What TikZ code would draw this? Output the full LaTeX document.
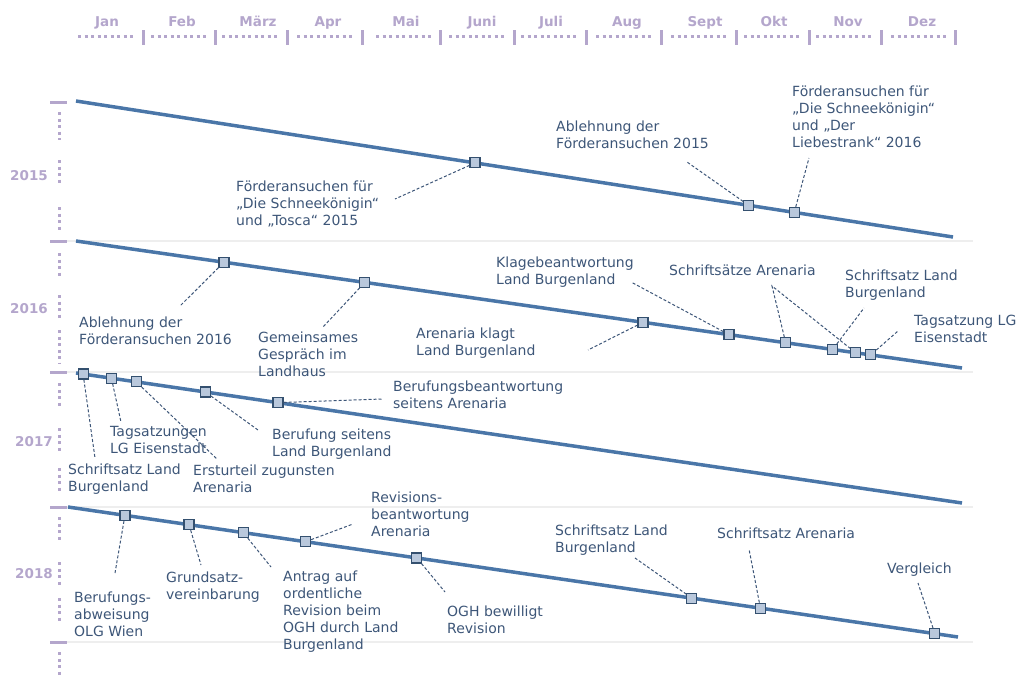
\documentclass[tikz,border=0pt]{standalone}
\usepackage{fontspec}
\newfontfamily\dvs{DejaVu Sans}
\usetikzlibrary{positioning,backgrounds}
\definecolor{lav}{HTML}{B4A6CC}
\definecolor{tlblue}{HTML}{4A76A8}
\definecolor{txt}{HTML}{3D5678}
\definecolor{mfill}{HTML}{B9C8DC}
\definecolor{mdraw}{HTML}{34506F}
\definecolor{gridgray}{HTML}{EEEEEE}

\begin{document}
\begin{tikzpicture}[x=1pt,y=-1pt,
  tl/.style={draw=tlblue, line width=3.5pt},
  evt/.style={rectangle, draw=mdraw, fill=mfill, line width=1.1pt, minimum size=10pt, inner sep=0pt},
  lead/.style={draw=txt, line width=1pt, dash pattern=on 3pt off 2pt},
  lbl/.style={anchor=north west, inner sep=0pt, align=left, text=txt, font=\dvs\fontsize{14}{17}\selectfont},
  mon/.style={anchor=base, inner sep=0pt, text=lav, font=\dvs\bfseries\fontsize{13.5}{16}\selectfont},
  yr/.style={anchor=base east, inner sep=0pt, text=lav, font=\dvs\bfseries\fontsize{13.5}{16}\selectfont},
  tick/.style={draw=lav, line width=3pt},
  dots/.style={draw=lav, line width=3pt, dash pattern=on 3pt off 3.5pt},
  gline/.style={draw=gridgray, line width=1.5pt}]
\useasboundingbox (0,0) rectangle (1017,675);

% months
\foreach \m/\x/\t [count=\i] in {Jan/106/143, Feb/179/215, März/250/287, Apr/325/362,
    Mai/404/440, Juni/477/514, Juli/549/586, Aug/624/661, Sept/699/736, Okt/772/809,
    Nov/844/881, Dez/919/955}{
  \draw[dots] (\x-28,36) -- (\x+27,36);
  \draw[tick] (\t,30) -- (\t,45);
}
\foreach \m/\x [count=\i] in {Jan/107, Feb/182, März/258, Apr/328, Mai/406, Juni/482,
    Juli/551, Aug/627, Sept/705, Okt/774, Nov/848, Dez/922}
  \node[mon] (mon\i) at (\x,26.5) {\m};

% years
\foreach \y in {241,372,507,642} \draw[gline] (67,\y) -- (973,\y);
\foreach \y in {102,241,372,507,642} \draw[tick] (50,\y) -- (67,\y);
\foreach \a/\b in {112/140, 160/185, 207/233, 253/277, 295/320, 330/363, 383/407,
    428/452, 468/493, 517/542, 562/587, 598/623, 652/675}
  \draw[dots] (59,\a) -- (59,\b);
\node[yr] (y15) at (48,180) {2015};
\node[yr] (y16) at (48,313) {2016};
\node[yr] (y17) at (53,446) {2017};
\node[yr] (y18) at (53,578) {2018};

% 2015
\coordinate (s15) at (76,101);
\coordinate (e15) at (953,237);
\draw[tl] (s15) -- (e15)
  node[evt,pos=0.455] (m15a) {}
  node[evt,pos=0.767] (m15b) {}
  node[evt,pos=0.819] (m15c) {};
\node[lbl] (t15a) at (236,181) {Förderansuchen für\\„Die Schneekönigin“\\und „Tosca“ 2015};
\node[lbl] (t15b) at (556,121) {Ablehnung der\\Förderansuchen 2015};
\node[lbl] (t15c) at (792,86) {Förderansuchen für\\„Die Schneekönigin“\\und „Der\\Liebestrank“ 2016};
\coordinate (c15a) at (395,199);
\coordinate (c15b) at (687,162);
\coordinate (c15c) at (809,158);
\begin{scope}[on background layer]
\draw[lead] (m15a) -- (c15a);
\draw[lead] (m15b) -- (c15b);
\draw[lead] (m15c) -- (c15c);
\end{scope}

% 2016
\coordinate (s16) at (76,241);
\coordinate (e16) at (962,368);
\draw[tl] (s16) -- (e16)
  node[evt,pos=0.167] (m16a) {}
  node[evt,pos=0.326] (m16b) {}
  node[evt,pos=0.640] (m16c) {}
  node[evt,pos=0.737] (m16d) {}
  node[evt,pos=0.801] (m16e) {}
  node[evt,pos=0.854] (m16f) {}
  node[evt,pos=0.880] (m16g) {}
  node[evt,pos=0.897] (m16h) {};
\node[lbl] (t16a) at (79,317) {Ablehnung der\\Förderansuchen 2016};
\node[lbl] (t16b) at (258,332) {Gemeinsames\\Gespräch im\\Landhaus};
\node[lbl] (t16c) at (416,328) {Arenaria klagt\\Land Burgenland};
\node[lbl] (t16d) at (496,257) {Klagebeantwortung\\Land Burgenland};
\node[lbl] (t16e) at (669,265) {Schriftsätze Arenaria};
\node[lbl] (t16f) at (845,270) {Schriftsatz Land\\Burgenland};
\node[lbl] (t16g) at (914,315) {Tagsatzung LG\\Eisenstadt};
\coordinate (c16a) at (180,306);
\coordinate (c16b) at (323,327);
\coordinate (c16c) at (588,350);
\coordinate (c16d) at (631,282);
\coordinate (c16e) at (772,286);
\coordinate (c16f) at (864,308);
\coordinate (c16g) at (898,331);
\begin{scope}[on background layer]
\draw[lead] (m16a) -- (c16a);
\draw[lead] (m16b) -- (c16b);
\draw[lead] (m16c) -- (c16c);
\draw[lead] (m16d) -- (c16d);
\draw[lead] (m16e) -- (c16e) -- (m16g);
\draw[lead] (m16f) -- (c16f);
\draw[lead] (m16h) -- (c16g);
\end{scope}

% 2017
\coordinate (s17) at (76,373);
\coordinate (e17) at (962,503);
\draw[tl] (s17) -- (e17)
  node[evt,pos=0.008] (m17a) {}
  node[evt,pos=0.040] (m17b) {}
  node[evt,pos=0.068] (m17c) {}
  node[evt,pos=0.146] (m17d) {}
  node[evt,pos=0.228] (m17e) {};
\node[lbl] (t17a) at (68,464) {Schriftsatz Land\\Burgenland};
\node[lbl] (t17b) at (110,426) {Tagsatzungen\\LG Eisenstadt};
\node[lbl] (t17c) at (193,465) {Ersturteil zugunsten\\Arenaria};
\node[lbl] (t17d) at (272,429) {Berufung seitens\\Land Burgenland};
\node[lbl] (t17e) at (393,381) {Berufungsbeantwortung\\seitens Arenaria};
\coordinate (c17a) at (95,458);
\coordinate (c17b) at (121,422);
\coordinate (c17c) at (217,459);
\coordinate (c17d) at (258,430);
\coordinate (c17e) at (382,399);
\draw[lead] (m17a) -- (c17a);
\draw[lead] (m17b) -- (c17b);
\draw[lead] (m17c) -- (c17c);
\draw[lead] (m17d) -- (c17d);
\draw[lead] (m17e) -- (c17e);

% 2018
\coordinate (s18) at (68,507);
\coordinate (e18) at (958,637);
\draw[tl] (s18) -- (e18)
  node[evt,pos=0.064] (m18a) {}
  node[evt,pos=0.136] (m18b) {}
  node[evt,pos=0.197] (m18c) {}
  node[evt,pos=0.267] (m18d) {}
  node[evt,pos=0.392] (m18e) {}
  node[evt,pos=0.701] (m18f) {}
  node[evt,pos=0.778] (m18g) {}
  node[evt,pos=0.974] (m18h) {};
\node[lbl] (t18a) at (74,592) {Berufungs-\\abweisung\\OLG Wien};
\node[lbl] (t18b) at (166,572) {Grundsatz-\\vereinbarung};
\node[lbl] (t18c) at (283,571) {Antrag auf\\ordentliche\\Revision beim\\OGH durch Land\\Burgenland};
\node[lbl] (t18d) at (371,492) {Revisions-\\beantwortung\\Arenaria};
\node[lbl] (t18e) at (447,606) {OGH bewilligt\\Revision};
\node[lbl] (t18f) at (555,525) {Schriftsatz Land\\Burgenland};
\node[lbl] (t18g) at (717,528) {Schriftsatz Arenaria};
\node[lbl] (t18h) at (887,563) {Vergleich};
\coordinate (c18a) at (115,573);
\coordinate (c18b) at (201,565);
\coordinate (c18c) at (271,567);
\coordinate (c18d) at (353,524);
\coordinate (c18e) at (445,592);
\coordinate (c18f) at (635,558);
\coordinate (c18g) at (749,549);
\coordinate (c18h) at (918,583);
\draw[lead] (m18a) -- (c18a);
\draw[lead] (m18b) -- (c18b);
\draw[lead] (m18c) -- (c18c);
\draw[lead] (m18d) -- (c18d);
\draw[lead] (m18e) -- (c18e);
\draw[lead] (m18f) -- (c18f);
\draw[lead] (m18g) -- (c18g);
\draw[lead] (m18h) -- (c18h);
\end{tikzpicture}
\end{document}
